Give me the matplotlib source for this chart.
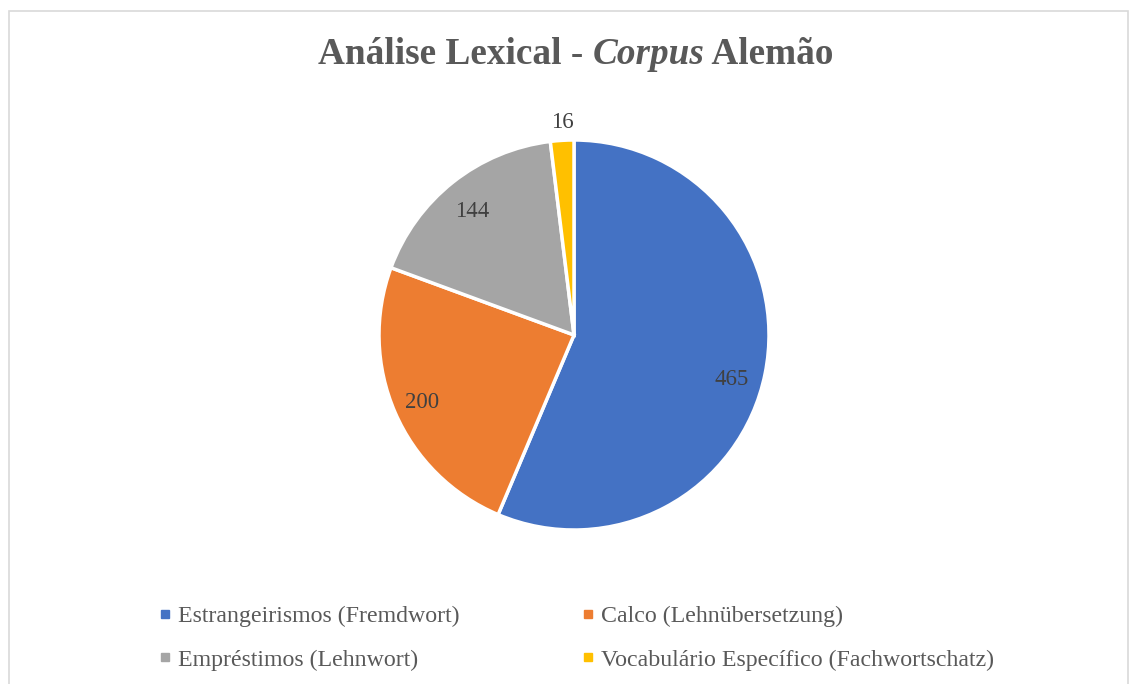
import matplotlib.pyplot as plt
from matplotlib.patches import Rectangle
from matplotlib.lines import Line2D
import numpy as np

# dados do gráfico
categorias = ["Estrangeirismos (Fremdwort)", "Calco (Lehnübersetzung)",
              "Empréstimos (Lehnwort)", "Vocabulário Específico (Fachwortschatz)"]
valores = [465, 200, 144, 16]
cores = ["#4472C4", "#ED7D31", "#A5A5A5", "#FFC000"]

W, H = 1131, 684
fig = plt.figure(figsize=(W / 100, H / 100), dpi=100)
ax = fig.add_axes([0, 0, 1, 1])

# moldura
ax.add_patch(Rectangle((8.5, -5), 1119, H - 10.5 + 5, fill=False, edgecolor="#D9D9D9", linewidth=1.2))

cx, cy, r = 574, H - 335, 195
wedges, _ = ax.pie(valores, colors=cores, startangle=90, counterclock=False,
                   center=(cx, cy), radius=r, frame=True,
                   wedgeprops=dict(edgecolor="white", linewidth=2.5))
ax.set_xlim(0, W)
ax.set_ylim(0, H)
ax.set_aspect("equal")
ax.axis("off")

# rótulos (distância relativa ao raio e pequeno ajuste de ângulo)
dist = [0.84, 0.85, 0.82, 1.09]
ajuste = [-4.4, 0.5, 1.3, -0.3]
for w, v, d, a in zip(wedges, valores, dist, ajuste):
    ang = np.deg2rad((w.theta1 + w.theta2) / 2 + a)
    ax.text(cx + d * r * np.cos(ang), cy + d * r * np.sin(ang), str(v),
            ha="center", va="center", fontsize=16.5, family="Liberation Serif", color="#404040")

# título
fs = 26.8
ty = H - 54
t1 = ax.text(318, ty, "Análise Lexical - ", fontsize=fs, fontweight="bold",
             family="Liberation Serif", color="#595959", va="center", ha="left")
fig.canvas.draw()
bb = t1.get_window_extent()
t2 = ax.text(bb.x1, ty, "Corpus", fontsize=fs, fontweight="bold", style="italic",
             family="Liberation Serif", color="#595959", va="center", ha="left")
fig.canvas.draw()
bb2 = t2.get_window_extent()
ax.text(bb2.x1, ty, " Alemão", fontsize=fs, fontweight="bold",
        family="Liberation Serif", color="#595959", va="center", ha="left")

# legenda (ordem por linhas)
ordem = [0, 2, 1, 3]
handles = [Line2D([], [], marker="s", linestyle="", markersize=6, color=cores[i]) for i in ordem]
labels = [categorias[i] for i in ordem]
leg = fig.legend(handles, labels, loc="center left", bbox_to_anchor=(136 / W, 1 - 638 / H),
                 ncol=2, frameon=False, handlelength=0.6, handletextpad=0.25,
                 columnspacing=5.1, labelspacing=0.93,
                 prop=dict(family="Liberation Serif", size=17.2), labelcolor="#595959")

fig.savefig("out.png", dpi=100)
